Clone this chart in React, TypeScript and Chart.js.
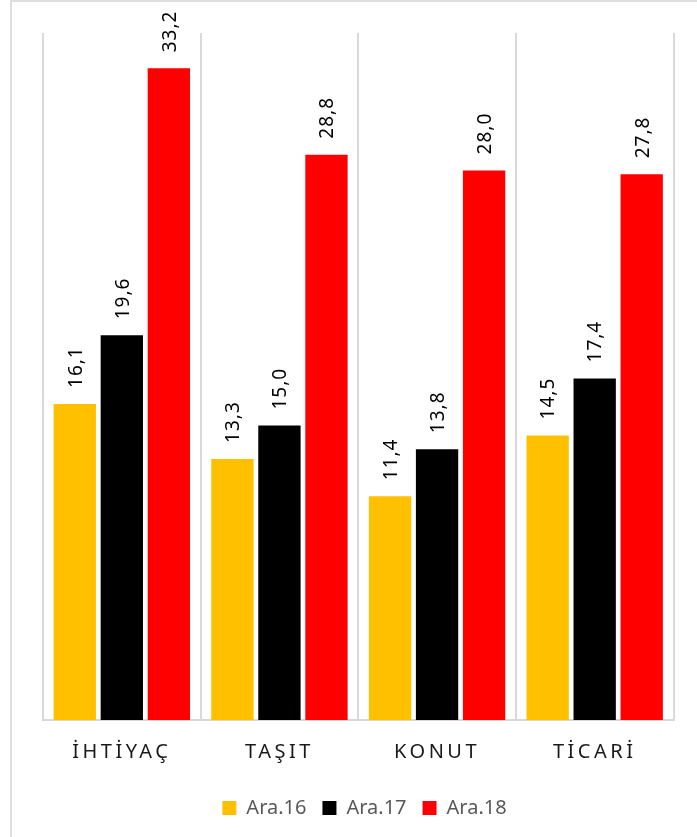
import React, { useEffect, useRef } from 'react';
import { Chart, registerables } from 'chart.js';

Chart.register(...registerables);

const categories = ['İHTİYAÇ', 'TAŞIT', 'KONUT', 'TİCARİ'];
const seriesNames = ['Ara.16', 'Ara.17', 'Ara.18'];
const ara16 = [16.1, 13.3, 11.4, 14.5];
const ara17 = [19.6, 15.0, 13.8, 17.4];
const ara18 = [33.2, 28.8, 28.0, 27.8];
const seriesColors = ['#FFC000', '#000000', '#FF0000'];
const yMax = 35;

const FONT = '"Noto Sans", "DejaVu Sans", sans-serif';

export default function App() {
  const ref = useRef<HTMLCanvasElement>(null);

  useEffect(() => {
    const labelPlugin = {
      id: 'valueLabels',
      afterDatasetsDraw(chart: any) {
        const ctx = chart.ctx;
        ctx.save();
        ctx.font = `19px ${FONT}`;
        ctx.fillStyle = '#000000';
        (ctx as any).letterSpacing = '1px';
        ctx.textAlign = 'left';
        ctx.textBaseline = 'alphabetic';
        chart.data.datasets.forEach((ds: any, di: number) => {
          const meta = chart.getDatasetMeta(di);
          meta.data.forEach((bar: any, i: number) => {
            const v = ds.data[i] as number;
            const text = v.toFixed(1).replace('.', ',');
            ctx.save();
            ctx.translate(bar.x + 6.8, bar.y - 16);
            ctx.rotate(-Math.PI / 2);
            ctx.fillText(text, 0, 0);
            ctx.restore();
          });
        });
        ctx.restore();
        (ctx as any).letterSpacing = '3.5px';
      },
      afterDraw(chart: any) {
        (chart.ctx as any).letterSpacing = '0px';
      },
    };

    const chart = new Chart(ref.current as HTMLCanvasElement, {
      type: 'bar',
      data: {
        labels: categories,
        datasets: [ara16, ara17, ara18].map((d, i) => ({
          label: seriesNames[i],
          data: d,
          backgroundColor: seriesColors[i],
          borderWidth: 0,
          categoryPercentage: 0.895,
          barPercentage: 0.9,
        })),
      },
      options: {
        animation: false,
        responsive: false,
        maintainAspectRatio: false,
        layout: { padding: { top: 31, bottom: 8, left: 0, right: 0 } },
        plugins: {
          tooltip: { enabled: false },
          legend: {
            position: 'bottom',
            labels: {
              boxWidth: 14,
              boxHeight: 14,
              padding: 16,
              color: '#595959',
              font: { family: FONT, size: 20 },
            },
          },
        },
        scales: {
          x: {
            grid: { color: '#d9d9d9', lineWidth: 2, drawTicks: false, offset: true },
            border: { display: true, color: '#d9d9d9', width: 2 },
            ticks: {
              color: '#1a1a1a',
              font: { family: FONT, size: 20 },
              padding: 20,
              maxRotation: 0,
              autoSkip: false,
              z: 1,
            },
            afterFit(scale: any) {
              scale.height = 62;
            },
          },
          y: {
            min: 0,
            max: yMax,
            position: 'left',
            grid: { display: false },
            border: { display: false },
            ticks: { display: false },
            afterFit(scale: any) {
              scale.width = 31;
            },
          },
          yRight: {
            type: 'linear',
            position: 'right',
            min: 0,
            max: yMax,
            grid: { display: false },
            border: { display: false },
            ticks: { display: false },
            afterFit(scale: any) {
              scale.width = 43.5;
            },
          },
        },
      },
      plugins: [labelPlugin],
    } as any);

    return () => chart.destroy();
  }, []);

  return (
    <div
      style={{
        position: 'fixed',
        left: 0,
        top: 0,
        width: 697,
        height: 837,
        overflow: 'hidden',
        background: '#ffffff',
      }}
    >
      <div
        style={{
          position: 'absolute',
          left: 10,
          top: 0,
          width: 740,
          height: 880,
          border: '2px solid #dedede',
          boxSizing: 'border-box',
          background: '#ffffff',
        }}
      >
        <canvas
          ref={ref}
          width={705}
          height={834}
          style={{ display: 'block', width: 705, height: 834 }}
        />
      </div>
    </div>
  );
}
